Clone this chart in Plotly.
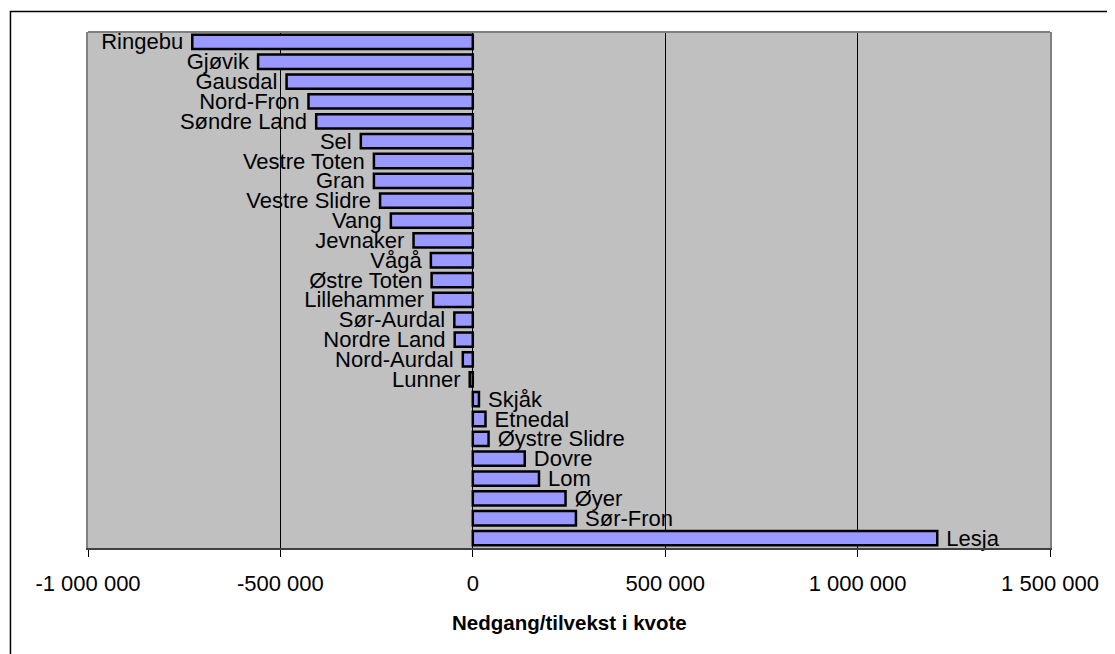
import plotly.graph_objects as go

kommuner = ["Ringebu", "Gjøvik", "Gausdal", "Nord-Fron", "Søndre Land", "Sel",
            "Vestre Toten", "Gran", "Vestre Slidre", "Vang", "Jevnaker", "Vågå",
            "Østre Toten", "Lillehammer", "Sør-Aurdal", "Nordre Land", "Nord-Aurdal",
            "Lunner", "Skjåk", "Etnedal", "Øystre Slidre", "Dovre", "Lom", "Øyer",
            "Sør-Fron", "Lesja"]
endring = [-729000, -558000, -484000, -427000, -407000, -291000,
           -257000, -257000, -241000, -213000, -154000, -109000,
           -107000, -103000, -48000, -47000, -26000,
           -8000, 16000, 33000, 41000, 135000, 172000, 241000,
           268000, 1207000]

tick_vals = [-1000000, -500000, 0, 500000, 1000000, 1500000]
tick_text = ["-1 000 000", "-500 000", "0", "500 000", "1 000 000", "1 500 000"]
x_title = "Nedgang/tilvekst i kvote"

FONT = "Liberation Sans, Arial, sans-serif"
NBSP = "\u00a0"
labels = [(k + NBSP) if v < 0 else (NBSP + k) for k, v in zip(kommuner, endring)]

fig = go.Figure()
fig.add_trace(go.Bar(
    x=endring, y=kommuner, orientation="h",
    marker=dict(color="#9999FF", line=dict(color="black", width=2.5)),
    text=labels, textposition="outside", cliponaxis=False,
    constraintext="none",
    textfont=dict(family=FONT, size=22, color="black"),
    hoverinfo="x+y",
))

# page body has an 8px margin; figure is sized so the plot lands where the reference has it
fig.update_layout(
    width=1107, height=646,
    margin=dict(l=80, r=65, t=24, b=106),
    paper_bgcolor="white", plot_bgcolor="#C0C0C0",
    bargap=0.28, showlegend=False,
    font=dict(family=FONT, size=22, color="black"),
    xaxis=dict(range=[-1000000, 1500000], tickvals=tick_vals, ticktext=tick_text,
               showgrid=True, gridcolor="black", gridwidth=1, zeroline=False,
               showline=True, linecolor="#404040", linewidth=2,
               ticks="outside", ticklen=7, tickcolor="black", tickwidth=1,
               ticklabelstandoff=8,
               tickfont=dict(family=FONT, size=22, color="black")),
    yaxis=dict(autorange="reversed", showticklabels=False, ticks="",
               showgrid=False, zeroline=False,
               showline=True, linecolor="#808080", linewidth=2, mirror=True),
    shapes=[
        dict(type="line", xref="paper", yref="paper", x0=0, x1=1, y0=1, y1=1,
             line=dict(color="#808080", width=2)),
        dict(type="rect", xref="paper", yref="paper",
             x0=-0.0806, x1=1.2, y0=-0.4, y1=1.0397,
             line=dict(color="black", width=1.5), fillcolor="rgba(0,0,0,0)"),
    ],
    annotations=[dict(text="<b>" + x_title + "</b>", xref="paper", yref="paper",
                      x=0.5, y=-0.1444, xanchor="center", yanchor="middle",
                      showarrow=False,
                      font=dict(family=FONT, size=20.5, color="black"))],
)

fig.write_html("out.html")
